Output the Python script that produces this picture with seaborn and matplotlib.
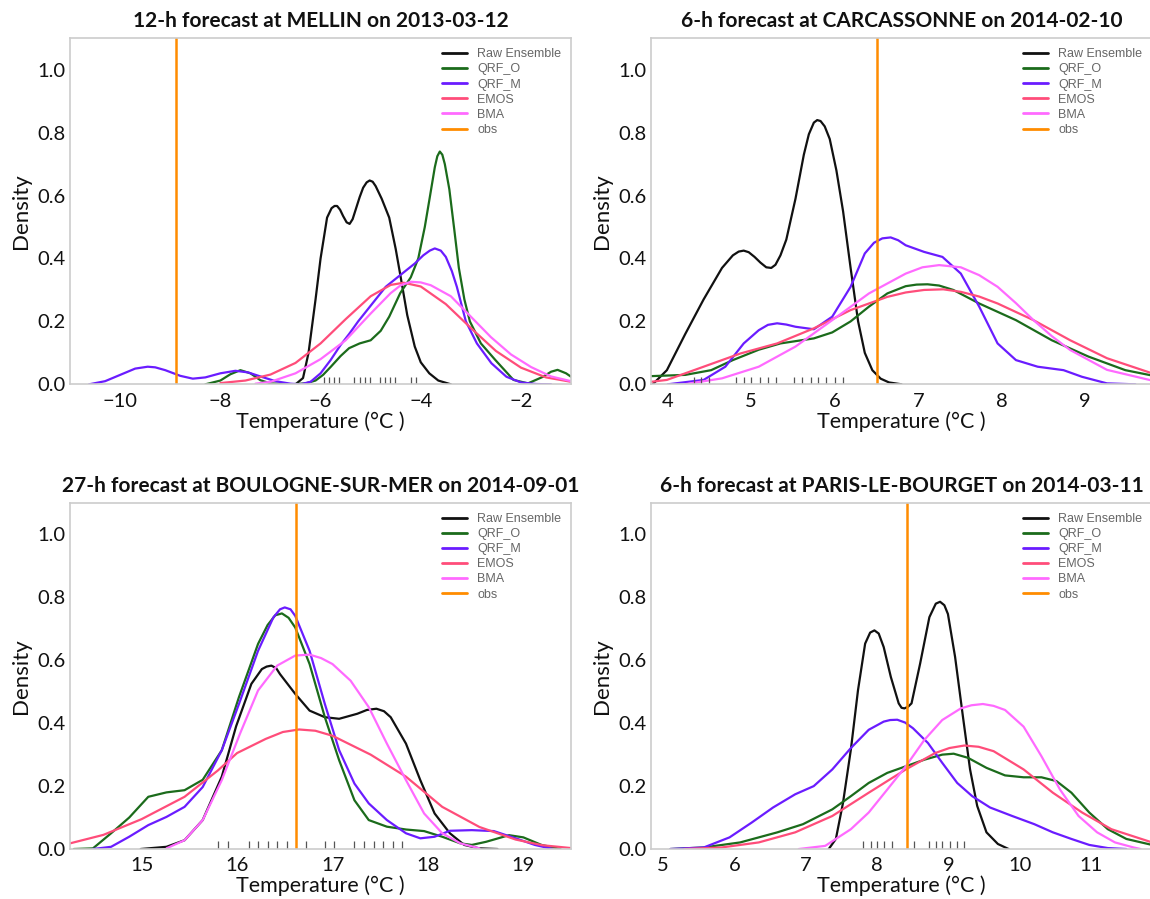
import numpy as np
import pandas as pd
import seaborn as sns
import matplotlib.pyplot as plt

sns.set_theme(style="white")
plt.rcParams['font.family'] = ['Lato', 'DejaVu Sans']

# ---------------- data ----------------
titles = ["12-h forecast at MELLIN on 2013-03-12",
          "6-h forecast at CARCASSONNE on 2014-02-10",
          "27-h forecast at BOULOGNE-SUR-MER on 2014-09-01",
          "6-h forecast at PARIS-LE-BOURGET on 2014-03-11"]
methods = ["Raw Ensemble", "QRF_O", "QRF_M", "EMOS", "BMA"]
colors = {"Raw Ensemble": "#111111", "QRF_O": "#1b6b1b", "QRF_M": "#6a1cff",
          "EMOS": "#ff4d7a", "BMA": "#ff6aff", "obs": "#ff8c00"}

xlims = [(-11, -1), (3.8, 9.8), (14.25, 19.5), (4.83, 11.85)]
xticks = [[-10, -8, -6, -4, -2], [4, 5, 6, 7, 8, 9], [15, 16, 17, 18, 19], [5, 6, 7, 8, 9, 10, 11]]
obs = [-8.89, 6.51, 16.62, 8.41]

# Panel 1 (MELLIN)
p1_raw_x = [-6.5, -6.35, -6.24, -6.1, -6.0, -5.87, -5.78, -5.72, -5.67, -5.61, -5.55, -5.48, -5.42, -5.36, -5.3, -5.22, -5.15, -5.08, -5.02, -4.96, -4.9, -4.78, -4.63, -4.5, -4.4, -4.27, -4.12, -4.0, -3.83, -3.65, -3.4]
p1_raw_y = [0.0, 0.02, 0.10, 0.27, 0.40, 0.53, 0.56, 0.567, 0.567, 0.555, 0.535, 0.515, 0.51, 0.525, 0.555, 0.595, 0.625, 0.642, 0.648, 0.644, 0.63, 0.59, 0.53, 0.43, 0.34, 0.22, 0.12, 0.07, 0.035, 0.012, 0.0]
p1_qrfo_x = [-8.3, -8.0, -7.8, -7.6, -7.4, -7.2, -7.0, -6.6, -6.3, -6.1, -5.95, -5.8, -5.6, -5.43, -5.22, -5.0, -4.8, -4.63, -4.41, -4.2, -4.05, -3.92, -3.83, -3.72, -3.67, -3.62, -3.57, -3.52, -3.43, -3.33, -3.24, -3.13, -3.02, -2.8, -2.51, -2.15, -1.86, -1.56, -1.4, -1.27, -1.1, -1.0]
p1_qrfo_y = [0.0, 0.012, 0.032, 0.045, 0.035, 0.013, 0.003, 0.0, 0.003, 0.012, 0.03, 0.055, 0.09, 0.115, 0.13, 0.14, 0.17, 0.215, 0.29, 0.34, 0.40, 0.50, 0.585, 0.69, 0.725, 0.74, 0.73, 0.70, 0.62, 0.49, 0.37, 0.27, 0.20, 0.13, 0.077, 0.014, 0.003, 0.024, 0.04, 0.046, 0.035, 0.024]
p1_qrfm_x = [-10.62, -10.3, -10.0, -9.7, -9.45, -9.3, -9.1, -8.8, -8.55, -8.3, -8.0, -7.7, -7.45, -7.2, -6.9, -6.6, -6.4, -6.2, -6.0, -5.8, -5.6, -5.43, -5.25, -5.07, -4.9, -4.7, -4.45, -4.12, -3.95, -3.82, -3.72, -3.6, -3.5, -3.38, -3.28, -3.1, -2.88, -2.59, -2.29, -2.0, -1.7, -1.4]
p1_qrfm_y = [0.0, 0.01, 0.03, 0.05, 0.056, 0.054, 0.045, 0.027, 0.018, 0.022, 0.035, 0.043, 0.038, 0.025, 0.01, 0.002, 0.0, 0.008, 0.035, 0.077, 0.125, 0.16, 0.2, 0.236, 0.27, 0.31, 0.342, 0.384, 0.41, 0.425, 0.432, 0.425, 0.405, 0.36, 0.31, 0.20, 0.13, 0.067, 0.024, 0.006, 0.001, 0.0]
p1_emos_x = [-8.0, -7.5, -7.0, -6.5, -6.0, -5.5, -5.0, -4.6, -4.34, -4.0, -3.5, -3.0, -2.5, -2.0, -1.5, -1.0]
p1_emos_y = [0.004, 0.012, 0.031, 0.068, 0.13, 0.207, 0.28, 0.316, 0.323, 0.311, 0.255, 0.179, 0.106, 0.053, 0.022, 0.008]
p1_bma_x = [-7.3, -7.0, -6.5, -6.0, -5.5, -5.0, -4.6, -4.4, -4.2, -4.0, -3.8, -3.4, -3.0, -2.6, -2.2, -1.8, -1.4, -1.0]
p1_bma_y = [0.002, 0.008, 0.035, 0.08, 0.14, 0.225, 0.29, 0.315, 0.326, 0.324, 0.315, 0.28, 0.215, 0.15, 0.095, 0.055, 0.025, 0.01]
p1_rug = [-5.93, -5.84, -5.74, -5.64, -5.33, -5.22, -5.12, -5.02, -4.81, -4.71, -4.61, -4.52, -4.20, -4.10]

# Panel 2 (CARCASSONNE)
p2_raw_x = [3.82, 3.99, 4.21, 4.43, 4.65, 4.78, 4.85, 4.91, 4.97, 5.04, 5.11, 5.18, 5.24, 5.29, 5.35, 5.42, 5.53, 5.63, 5.69, 5.75, 5.79, 5.83, 5.88, 5.94, 6.02, 6.10, 6.19, 6.28, 6.36, 6.45, 6.55, 6.65, 6.8]
p2_raw_y = [0.0, 0.045, 0.16, 0.27, 0.37, 0.41, 0.422, 0.425, 0.42, 0.405, 0.387, 0.372, 0.37, 0.38, 0.41, 0.46, 0.59, 0.73, 0.795, 0.832, 0.84, 0.837, 0.82, 0.78, 0.68, 0.55, 0.37, 0.20, 0.10, 0.045, 0.018, 0.006, 0.0]
p2_qrfo_x = [3.8, 4.21, 4.52, 4.78, 5.09, 5.35, 5.75, 5.97, 6.19, 6.41, 6.63, 6.85, 6.98, 7.11, 7.25, 7.42, 7.73, 8.17, 8.6, 9.04, 9.48, 9.8]
p2_qrfo_y = [0.026, 0.03, 0.045, 0.077, 0.11, 0.13, 0.146, 0.165, 0.2, 0.247, 0.289, 0.312, 0.317, 0.318, 0.314, 0.30, 0.257, 0.204, 0.14, 0.088, 0.045, 0.028]
p2_qrfm_x = [4.0, 4.43, 4.69, 4.91, 5.09, 5.2, 5.31, 5.42, 5.53, 5.75, 5.97, 6.19, 6.36, 6.47, 6.57, 6.67, 6.76, 6.85, 7.07, 7.29, 7.51, 7.73, 7.95, 8.17, 8.43, 8.74, 8.96, 9.26, 9.6]
p2_qrfm_y = [0.0, 0.014, 0.056, 0.13, 0.172, 0.189, 0.194, 0.19, 0.183, 0.175, 0.215, 0.31, 0.416, 0.45, 0.464, 0.467, 0.458, 0.442, 0.421, 0.405, 0.352, 0.247, 0.13, 0.077, 0.056, 0.045, 0.024, 0.003, 0.0]
p2_emos_x = [3.8, 3.99, 4.43, 4.87, 5.31, 5.75, 6.19, 6.63, 6.85, 7.07, 7.3, 7.51, 7.73, 7.95, 8.38, 8.82, 9.26, 9.8]
p2_emos_y = [0.008, 0.014, 0.056, 0.098, 0.13, 0.178, 0.236, 0.278, 0.292, 0.30, 0.302, 0.294, 0.279, 0.257, 0.204, 0.14, 0.083, 0.035]
p2_bma_x = [4.2, 4.65, 5.09, 5.53, 5.97, 6.41, 6.85, 7.05, 7.25, 7.51, 7.73, 7.95, 8.17, 8.38, 8.6, 8.82, 9.26, 9.8]
p2_bma_y = [0.0, 0.019, 0.056, 0.12, 0.204, 0.289, 0.352, 0.372, 0.379, 0.372, 0.347, 0.31, 0.258, 0.204, 0.153, 0.109, 0.046, 0.012]
p2_rug = [4.31, 4.40, 4.50, 4.82, 4.91, 5.0, 5.10, 5.20, 5.30, 5.51, 5.61, 5.71, 5.80, 5.90, 6.0, 6.10]

# Panel 3 (BOULOGNE-SUR-MER)
p3_raw_x = [14.99, 15.26, 15.45, 15.64, 15.84, 15.99, 16.15, 16.26, 16.31, 16.36, 16.41, 16.45, 16.61, 16.76, 16.92, 17.07, 17.26, 17.36, 17.46, 17.54, 17.61, 17.77, 17.92, 18.07, 18.23, 18.38, 18.54, 18.73]
p3_raw_y = [0.0, 0.007, 0.028, 0.092, 0.23, 0.39, 0.525, 0.572, 0.58, 0.583, 0.575, 0.556, 0.493, 0.44, 0.419, 0.414, 0.43, 0.442, 0.446, 0.438, 0.419, 0.335, 0.219, 0.113, 0.05, 0.013, 0.002, 0.0]
p3_qrfo_x = [14.29, 14.49, 14.68, 14.87, 15.07, 15.26, 15.45, 15.64, 15.84, 16.02, 16.22, 16.32, 16.40, 16.47, 16.54, 16.61, 16.76, 16.92, 17.07, 17.23, 17.38, 17.57, 17.77, 17.96, 18.15, 18.34, 18.46, 18.61, 18.85, 19.0, 19.19, 19.39]
p3_qrfo_y = [0.0, 0.002, 0.05, 0.1, 0.166, 0.18, 0.187, 0.22, 0.314, 0.483, 0.652, 0.712, 0.743, 0.749, 0.735, 0.704, 0.588, 0.419, 0.282, 0.155, 0.092, 0.071, 0.062, 0.057, 0.039, 0.018, 0.013, 0.023, 0.044, 0.037, 0.013, 0.0]
p3_qrfm_x = [14.49, 14.68, 14.87, 15.07, 15.26, 15.45, 15.64, 15.84, 16.02, 16.22, 16.38, 16.45, 16.5, 16.56, 16.61, 16.76, 16.92, 17.07, 17.23, 17.38, 17.57, 17.77, 17.92, 18.07, 18.23, 18.46, 18.69, 18.92, 19.12, 19.31]
p3_qrfm_y = [0.0, 0.007, 0.039, 0.076, 0.102, 0.134, 0.197, 0.314, 0.461, 0.63, 0.736, 0.762, 0.768, 0.762, 0.741, 0.63, 0.461, 0.314, 0.208, 0.145, 0.092, 0.05, 0.034, 0.039, 0.058, 0.06, 0.057, 0.034, 0.013, 0.0]
p3_emos_x = [14.25, 14.6, 15.0, 15.45, 15.8, 16.0, 16.3, 16.48, 16.65, 16.82, 17.0, 17.4, 17.77, 18.15, 18.54, 18.92, 19.2, 19.5]
p3_emos_y = [0.018, 0.045, 0.095, 0.166, 0.25, 0.305, 0.35, 0.372, 0.38, 0.376, 0.36, 0.30, 0.23, 0.134, 0.07, 0.03, 0.012, 0.003]
p3_bma_x = [15.26, 15.45, 15.64, 15.84, 16.03, 16.22, 16.42, 16.61, 16.76, 16.88, 17.0, 17.19, 17.38, 17.57, 17.77, 17.96, 18.15, 18.34, 18.54]
p3_bma_y = [0.002, 0.028, 0.092, 0.219, 0.366, 0.504, 0.583, 0.615, 0.618, 0.607, 0.588, 0.535, 0.451, 0.335, 0.219, 0.113, 0.05, 0.018, 0.002]
p3_rug = [15.80, 15.91, 16.12, 16.22, 16.32, 16.42, 16.52, 16.72, 16.92, 17.02, 17.23, 17.33, 17.43, 17.53, 17.63, 17.73]

# Panel 4 (PARIS-LE-BOURGET)
p4_raw_x = [7.32, 7.42, 7.52, 7.63, 7.73, 7.83, 7.90, 7.96, 8.02, 8.09, 8.19, 8.30, 8.34, 8.38, 8.43, 8.48, 8.60, 8.73, 8.82, 8.88, 8.94, 8.99, 9.09, 9.20, 9.30, 9.40, 9.53, 9.69, 9.84]
p4_raw_y = [0.0, 0.032, 0.147, 0.316, 0.505, 0.653, 0.688, 0.695, 0.685, 0.642, 0.547, 0.463, 0.449, 0.447, 0.452, 0.463, 0.589, 0.737, 0.78, 0.786, 0.775, 0.747, 0.611, 0.421, 0.253, 0.137, 0.053, 0.016, 0.0]
p4_qrfo_x = [5.1, 5.57, 6.08, 6.6, 6.96, 7.37, 7.63, 7.88, 8.14, 8.40, 8.66, 8.91, 9.07, 9.27, 9.53, 9.79, 10.05, 10.30, 10.51, 10.72, 10.97, 11.23, 11.49, 11.85]
p4_qrfo_y = [0.0, 0.005, 0.021, 0.053, 0.079, 0.126, 0.168, 0.21, 0.242, 0.263, 0.284, 0.30, 0.303, 0.29, 0.258, 0.234, 0.228, 0.228, 0.216, 0.179, 0.116, 0.063, 0.032, 0.013]
p4_qrfm_x = [5.1, 5.57, 5.93, 6.24, 6.54, 6.85, 7.11, 7.37, 7.63, 7.88, 8.09, 8.18, 8.28, 8.39, 8.50, 8.71, 8.91, 9.12, 9.33, 9.58, 9.89, 10.2, 10.46, 10.72, 10.97, 11.23, 11.49]
p4_qrfm_y = [0.0, 0.005, 0.037, 0.084, 0.132, 0.174, 0.2, 0.253, 0.321, 0.379, 0.405, 0.41, 0.411, 0.402, 0.384, 0.337, 0.274, 0.21, 0.168, 0.132, 0.105, 0.079, 0.053, 0.032, 0.013, 0.003, 0.0]
p4_emos_x = [5.3, 5.82, 6.34, 6.85, 7.37, 7.88, 8.40, 8.81, 9.01, 9.22, 9.42, 9.63, 10.05, 10.46, 10.87, 11.28, 11.85]
p4_emos_y = [0.0, 0.005, 0.021, 0.053, 0.105, 0.179, 0.253, 0.305, 0.321, 0.329, 0.325, 0.311, 0.253, 0.179, 0.116, 0.063, 0.021]
p4_bma_x = [6.9, 7.27, 7.63, 7.88, 8.14, 8.40, 8.66, 8.91, 9.17, 9.32, 9.48, 9.63, 9.79, 10.05, 10.30, 10.56, 10.82, 11.08, 11.33, 11.59, 11.69]
p4_bma_y = [0.0, 0.01, 0.063, 0.116, 0.189, 0.263, 0.347, 0.41, 0.447, 0.457, 0.461, 0.455, 0.442, 0.389, 0.295, 0.189, 0.105, 0.053, 0.021, 0.005, 0.0]
p4_rug = [7.80, 7.91, 8.0, 8.09, 8.20, 8.52, 8.72, 8.82, 8.91, 9.02, 9.11, 9.22]

panels = [
    {"Raw Ensemble": (p1_raw_x, p1_raw_y), "QRF_O": (p1_qrfo_x, p1_qrfo_y), "QRF_M": (p1_qrfm_x, p1_qrfm_y),
     "EMOS": (p1_emos_x, p1_emos_y), "BMA": (p1_bma_x, p1_bma_y), "rug": p1_rug},
    {"Raw Ensemble": (p2_raw_x, p2_raw_y), "QRF_O": (p2_qrfo_x, p2_qrfo_y), "QRF_M": (p2_qrfm_x, p2_qrfm_y),
     "EMOS": (p2_emos_x, p2_emos_y), "BMA": (p2_bma_x, p2_bma_y), "rug": p2_rug},
    {"Raw Ensemble": (p3_raw_x, p3_raw_y), "QRF_O": (p3_qrfo_x, p3_qrfo_y), "QRF_M": (p3_qrfm_x, p3_qrfm_y),
     "EMOS": (p3_emos_x, p3_emos_y), "BMA": (p3_bma_x, p3_bma_y), "rug": p3_rug},
    {"Raw Ensemble": (p4_raw_x, p4_raw_y), "QRF_O": (p4_qrfo_x, p4_qrfo_y), "QRF_M": (p4_qrfm_x, p4_qrfm_y),
     "EMOS": (p4_emos_x, p4_emos_y), "BMA": (p4_bma_x, p4_bma_y), "rug": p4_rug},
]

# ---------------- figure ----------------
fig = plt.figure(figsize=(11.5, 8.99), dpi=100)
rects = [[0.0609, 0.5725, 0.4357, 0.3849], [0.5661, 0.5725, 0.4357, 0.3849],
         [0.0609, 0.0556, 0.4357, 0.3849], [0.5661, 0.0556, 0.4357, 0.3849]]

for i, pdata in enumerate(panels):
    ax = fig.add_axes(rects[i])
    for m in methods:
        xs, ys = pdata[m]
        df = pd.DataFrame({"x": xs, "y": ys})
        sns.lineplot(data=df, x="x", y="y", ax=ax, color=colors[m], linewidth=1.6,
                     label=m, estimator=None, sort=False)
    ax.axvline(obs[i], color=colors["obs"], linewidth=1.8, label="obs")
    sns.rugplot(x=pdata["rug"], ax=ax, height=0.022, color="#555555", linewidth=0.9)
    ax.set_xlim(*xlims[i])
    ax.set_ylim(0, 1.1)
    ax.set_xticks(xticks[i])
    ax.set_yticks([0.0, 0.2, 0.4, 0.6, 0.8, 1.0])
    ax.set_yticklabels(["0.0", "0.2", "0.4", "0.6", "0.8", "1.0"])
    ax.tick_params(axis="both", length=0, labelsize=14.5, colors="#111111")
    ax.tick_params(axis="x", pad=6)
    ax.tick_params(axis="y", pad=3)
    ax.set_xlabel("Temperature (°C )", fontsize=15.5, labelpad=1, color="#111111")
    ax.set_ylabel("Density", fontsize=16, labelpad=5, color="#111111")
    ax.set_title(titles[i], fontsize=15, fontweight="bold", pad=8, color="#111111")
    for sp in ax.spines.values():
        sp.set_color("#cccccc")
        sp.set_linewidth(1.2)
    leg = ax.legend(loc="upper right", frameon=False, labelcolor="#666666",
                    prop={"family": "Liberation Sans", "size": 9}, labelspacing=0.25,
                    handlelength=2.0, borderaxespad=0.4)
    for h in leg.get_lines():
        h.set_linewidth(2.0)

fig.savefig("out.png", dpi=100)
